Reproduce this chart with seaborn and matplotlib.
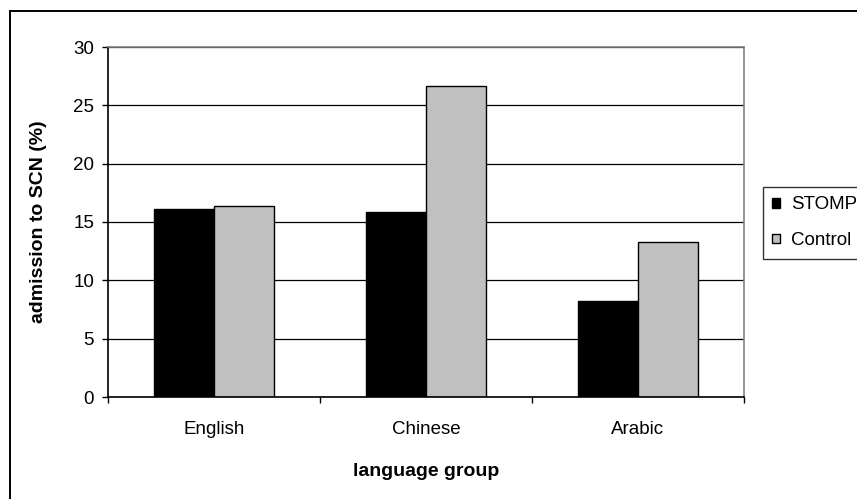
import matplotlib
matplotlib.use("Agg")
import matplotlib.pyplot as plt
from matplotlib.patches import Rectangle
import seaborn as sns
import pandas as pd

# Admission rates by language group
categories = ["English", "Chinese", "Arabic"]
stomp = [16.1, 15.9, 8.2]
control = [16.4, 26.7, 13.3]
series_names = ["STOMP", "Control"]
y_ticks = [0, 5, 10, 15, 20, 25, 30]

df = pd.DataFrame({
    "language group": categories * 2,
    "admission": stomp + control,
    "group": [series_names[0]] * len(categories) + [series_names[1]] * len(categories),
})

sns.set_theme(style="white")
plt.rcParams["font.family"] = ["Liberation Sans", "DejaVu Sans"]

TICK_FS = 13.5
TITLE_FS = 14
LEG_FS = 13.5

W, H = 857, 499
fig = plt.figure(figsize=(W / 100, H / 100), dpi=100)
fig.patch.set_facecolor("white")

left, right, top, bottom = 108, 744, 47, 397
ax = fig.add_axes([left / W, 1 - bottom / H, (right - left) / W, (bottom - top) / H])

sns.barplot(
    data=df, x="language group", y="admission", hue="group",
    hue_order=series_names,
    palette={"STOMP": "black", "Control": "#C0C0C0"},
    width=0.57, gap=0, edgecolor="black", linewidth=1.0,
    ax=ax, legend=True,
)

ax.set_xlim(-0.5, len(categories) - 0.5)
ax.set_ylim(0, 30)
ax.set_yticks(y_ticks)
ax.set_yticklabels([str(t) for t in y_ticks], fontsize=TICK_FS, color="black")
ax.set_axisbelow(True)
ax.yaxis.grid(True, color="black", linewidth=0.9)
ax.xaxis.grid(False)

# Category boundary tick marks on the x axis
ax.set_xticks(range(len(categories)))
ax.set_xticklabels(categories, fontsize=TICK_FS, color="black")
ax.set_xticks([i - 0.5 for i in range(len(categories) + 1)], minor=True)
ax.tick_params(axis="x", which="major", length=0, pad=17)
ax.tick_params(axis="x", which="minor", length=4, width=1, color="black", direction="out", bottom=True)
ax.tick_params(axis="y", which="major", length=4, width=1, color="black", direction="out", left=True, pad=6)

for side in ("left", "bottom"):
    ax.spines[side].set_color("black")
    ax.spines[side].set_linewidth(1.2)
for side in ("top", "right"):
    ax.spines[side].set_color("#808080")
    ax.spines[side].set_linewidth(1.2)

ax.set_ylabel("admission to SCN (%)", fontsize=TITLE_FS, fontweight="bold", color="black")
ax.yaxis.set_label_coords((47 - left) / (right - left), 0.5)
ax.set_xlabel("language group", fontsize=TITLE_FS, fontweight="bold", color="black")
ax.xaxis.set_label_coords(0.5, (bottom - 463) / (bottom - top))

ax.legend_.remove()
handles, labels = ax.get_legend_handles_labels()
leg = fig.legend(
    handles, labels,
    loc="upper left", bbox_to_anchor=(763 / W, 1 - 187 / H),
    bbox_transform=fig.transFigure,
    frameon=True, fancybox=False, shadow=False,
    fontsize=LEG_FS, handlelength=0.42, handleheight=0.42,
    handletextpad=0.6, labelspacing=1.0, borderpad=0.5, borderaxespad=0,
)
leg.get_frame().set_edgecolor("black")
leg.get_frame().set_linewidth(1.0)
for t in leg.get_texts():
    t.set_color("black")

# Outer chart border
fig.add_artist(Rectangle((10 / W, -0.1), 1.2, 1 - 11 / H + 0.1,
                         transform=fig.transFigure, fill=False,
                         edgecolor="black", linewidth=1.4))

fig.savefig("out.png", dpi=100)
